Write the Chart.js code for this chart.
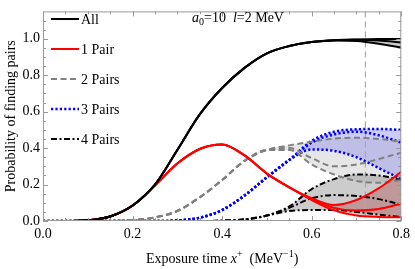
<!DOCTYPE html>
<html>
<head>
<meta charset="utf-8">
<script src="https://cdn.jsdelivr.net/npm/chart.js@4.4.0/dist/chart.umd.min.js"></script>
<style>
  html, body { margin: 0; padding: 0; background: #fff; }
  canvas { display: block; }
</style>
</head>
<body>
<canvas id="pairs" width="415" height="269"></canvas>
<script>
// exposure time x+ (MeV^-1)
const xValues = [0, 0.05, 0.1, 0.15, 0.2, 0.25, 0.3, 0.35, 0.4, 0.45, 0.5, 0.55, 0.6, 0.65, 0.7, 0.75, 0.8]

// probability curves, three per group (upper / middle / lower)
const allHigh = [0, 0, 0.004, 0.025, 0.085, 0.2, 0.39, 0.585, 0.73, 0.84, 0.92, 0.96, 0.982, 0.992, 0.996, 0.998, 0.999]
const allMid  = [0, 0, 0.004, 0.025, 0.085, 0.2, 0.39, 0.585, 0.73, 0.84, 0.92, 0.96, 0.982, 0.992, 0.994, 0.99, 0.98]
const allLow  = [0, 0, 0.004, 0.025, 0.085, 0.2, 0.39, 0.585, 0.73, 0.84, 0.92, 0.96, 0.982, 0.991, 0.988, 0.973, 0.952]

const onePairHigh = [0, 0, 0.004, 0.025, 0.084, 0.195, 0.315, 0.395, 0.42, 0.36, 0.26, 0.185, 0.125, 0.088, 0.115, 0.18, 0.27]
const onePairMid  = [0, 0, 0.004, 0.025, 0.084, 0.195, 0.315, 0.395, 0.42, 0.36, 0.26, 0.185, 0.12, 0.072, 0.058, 0.066, 0.095]
const onePairLow  = [0, 0, 0.004, 0.025, 0.084, 0.195, 0.315, 0.395, 0.42, 0.36, 0.26, 0.185, 0.115, 0.058, 0.03, 0.022, 0.02]

const twoPairHigh = [0, 0, 0, 0, 0.005, 0.02, 0.055, 0.13, 0.225, 0.33, 0.39, 0.415, 0.435, 0.452, 0.457, 0.45, 0.435]
const twoPairMid  = [0, 0, 0, 0, 0.005, 0.02, 0.055, 0.13, 0.225, 0.33, 0.39, 0.40, 0.345, 0.30, 0.31, 0.34, 0.375]
const twoPairLow  = [0, 0, 0, 0, 0.005, 0.02, 0.055, 0.13, 0.225, 0.33, 0.39, 0.39, 0.31, 0.255, 0.22, 0.21, 0.225]

const threePairHigh = [0, 0, 0, 0, 0, 0, 0.003, 0.018, 0.06, 0.14, 0.24, 0.335, 0.44, 0.49, 0.503, 0.505, 0.50]
const threePairMid  = [0, 0, 0, 0, 0, 0, 0.003, 0.018, 0.06, 0.14, 0.24, 0.335, 0.43, 0.475, 0.49, 0.47, 0.43]
const threePairLow  = [0, 0, 0, 0, 0, 0, 0.003, 0.018, 0.06, 0.14, 0.24, 0.335, 0.392, 0.385, 0.35, 0.29, 0.23]

const fourPairHigh = [0, 0, 0, 0, 0, 0, 0, 0, 0.002, 0.008, 0.03, 0.08, 0.175, 0.23, 0.255, 0.25, 0.225]
const fourPairMid  = [0, 0, 0, 0, 0, 0, 0, 0, 0.002, 0.008, 0.03, 0.072, 0.125, 0.142, 0.137, 0.12, 0.09]
const fourPairLow  = [0, 0, 0, 0, 0, 0, 0, 0, 0.002, 0.008, 0.03, 0.055, 0.06, 0.06, 0.05, 0.035, 0.022]

const seriesNames = ['All', '1 Pair', '2 Pairs', '3 Pairs', '4 Pairs']
const xTickValues = [0, 0.2, 0.4, 0.6, 0.8]
const yTickValues = [0, 0.2, 0.4, 0.6, 0.8, 1.0]
const markerX = 0.72

const SERIF = '"Liberation Serif", "DejaVu Serif", serif'

const groups = [
  { curves: [allHigh, allMid, allLow], color: '#000', width: 2, dash: [], fill: 'rgba(0,0,0,0.2)' },
  { curves: [onePairHigh, onePairMid, onePairLow], color: '#ff0000', width: 2, dash: [], fill: 'rgba(150,0,0,0.25)' },
  { curves: [twoPairHigh, twoPairMid, twoPairLow], color: '#808080', width: 2, dash: [6, 3.5], fill: 'rgba(128,128,128,0.2)' },
  { curves: [threePairHigh, threePairMid, threePairLow], color: '#0000ff', width: 2.5, dash: [2.2, 2.2], fill: 'rgba(0,0,255,0.2)' },
  { curves: [fourPairHigh, fourPairMid, fourPairLow], color: '#000', width: 2, dash: [6, 2.5, 2, 2.5], fill: 'rgba(0,0,0,0.2)' },
]

const toPoints = ys => ys.map((y, i) => ({ x: xValues[i], y }))

const datasets = []
groups.forEach((g, gi) => {
  const base = datasets.length
  g.curves.forEach((ys, k) => {
    datasets.push({
      label: seriesNames[gi],
      data: toPoints(ys),
      borderColor: g.color,
      borderWidth: g.width,
      borderDash: g.dash,
      pointRadius: 0,
      cubicInterpolationMode: 'monotone',
      fill: k === 0 ? base + g.curves.length - 1 : false,
      backgroundColor: g.fill,
    })
  })
})

// draw a row of text pieces with different fonts / offsets
function drawRuns(ctx, x, y, runs, align) {
  let total = 0
  runs.forEach(r => { ctx.font = r.font; total += ctx.measureText(r.t).width })
  let cx = align === 'center' ? x - total / 2 : x
  runs.forEach(r => {
    ctx.font = r.font
    ctx.fillText(r.t, cx, y + (r.dy || 0))
    cx += ctx.measureText(r.t).width
  })
}

const framePlugin = {
  id: 'frame',
  beforeDatasetsDraw(chart) {
    const { ctx, chartArea: a, scales: { x } } = chart
    const mx = x.getPixelForValue(markerX)
    ctx.save()
    ctx.strokeStyle = '#a8a8a8'
    ctx.lineWidth = 1.2
    ctx.setLineDash([6, 4])
    ctx.beginPath()
    ctx.moveTo(mx, a.top)
    ctx.lineTo(mx, a.bottom)
    ctx.stroke()
    ctx.restore()
  },
  afterDraw(chart) {
    const { ctx, chartArea: a, scales: { x, y } } = chart
    ctx.save()

    // frame
    ctx.strokeStyle = '#999'
    ctx.lineWidth = 1
    ctx.strokeRect(a.left + 0.5, a.top + 0.5, a.right - a.left - 1, a.bottom - a.top - 1)

    // inward ticks on all four sides
    ctx.beginPath()
    for (let i = 0; i <= 16; i++) {
      const v = i * 0.05
      const len = i % 4 === 0 ? 5 : 3
      const px = Math.round(x.getPixelForValue(v)) + 0.5
      ctx.moveTo(px, a.bottom); ctx.lineTo(px, a.bottom - len)
      ctx.moveTo(px, a.top); ctx.lineTo(px, a.top + len)
    }
    for (let i = 0; i <= 23; i++) {
      const v = i * 0.05
      if (v > y.max) break
      const len = i % 4 === 0 ? 5 : 3
      const py = Math.round(y.getPixelForValue(v)) + 0.5
      ctx.moveTo(a.left, py); ctx.lineTo(a.left + len, py)
      ctx.moveTo(a.right, py); ctx.lineTo(a.right - len, py)
    }
    ctx.stroke()

    // legend inside the plot
    ctx.fillStyle = '#000'
    ctx.textBaseline = 'middle'
    groups.forEach((g, i) => {
      const ly = 19 + 30 * i
      ctx.save()
      ctx.strokeStyle = g.color
      ctx.lineWidth = g.width
      ctx.setLineDash(g.dash)
      ctx.beginPath()
      ctx.moveTo(51, ly)
      ctx.lineTo(79, ly)
      ctx.stroke()
      ctx.restore()
      ctx.font = '14px ' + SERIF
      ctx.fillText(seriesNames[i], 81, ly + 1)
    })

    // annotation
    ctx.textBaseline = 'alphabetic'
    drawRuns(ctx, 192, 22, [
      { t: 'a', font: 'italic 14px ' + SERIF },
      { t: '0', font: '10px ' + SERIF, dy: 3 },
      { t: '=10  ', font: '14px ' + SERIF },
      { t: 'l', font: 'italic 14px ' + SERIF },
      { t: '=2 MeV', font: '14px ' + SERIF },
    ])

    // x title
    drawRuns(ctx, (a.left + a.right) / 2, 263, [
      { t: 'Exposure time ', font: '14px ' + SERIF },
      { t: 'x', font: 'italic 14px ' + SERIF },
      { t: '+', font: '10px ' + SERIF, dy: -6 },
      { t: '  (MeV', font: '14px ' + SERIF },
      { t: '\u22121', font: '10px ' + SERIF, dy: -6 },
      { t: ')', font: '14px ' + SERIF },
    ], 'center')

    // y title
    ctx.translate(15, (a.top + a.bottom) / 2)
    ctx.rotate(-Math.PI / 2)
    ctx.textAlign = 'center'
    ctx.font = '14px ' + SERIF
    ctx.fillText('Probability of finding pairs', 0, 0)

    ctx.restore()
  },
}

new Chart(document.getElementById('pairs'), {
  type: 'line',
  data: { datasets },
  options: {
    responsive: false,
    animation: false,
    devicePixelRatio: 1,
    layout: { padding: { top: 1, right: 10, left: 0, bottom: 0 } },
    plugins: {
      legend: { display: false },
      tooltip: { enabled: false },
      filler: { drawTime: 'beforeDatasetsDraw' },
    },
    scales: {
      x: {
        type: 'linear',
        min: 0,
        max: 0.8,
        grid: { display: false, drawTicks: false },
        border: { display: false },
        afterBuildTicks: s => { s.ticks = xTickValues.map(v => ({ value: v })) },
        afterFit: s => { s.height = 48 },
        ticks: {
          padding: 5,
          maxRotation: 0,
          color: '#000',
          font: { family: SERIF, size: 14 },
          callback: v => Number(v).toFixed(1),
        },
      },
      y: {
        min: 0,
        max: 1.15,
        grid: { display: false, drawTicks: false },
        border: { display: false },
        afterBuildTicks: s => { s.ticks = yTickValues.map(v => ({ value: v })) },
        afterFit: s => { s.width = 43 },
        ticks: {
          padding: 3,
          color: '#000',
          font: { family: SERIF, size: 14 },
          callback: v => Number(v).toFixed(1),
        },
      },
    },
  },
  plugins: [framePlugin],
})
</script>
</body>
</html>
